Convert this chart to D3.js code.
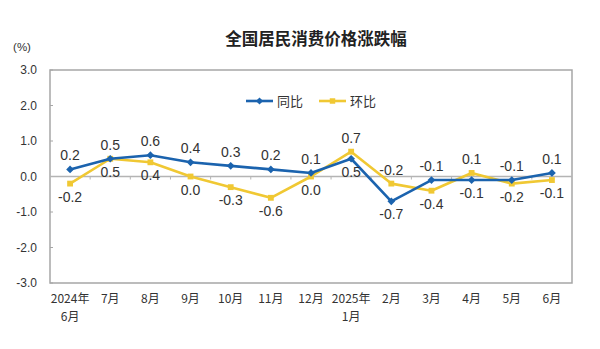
<!DOCTYPE html>
<html>
<head>
<meta charset="utf-8">
<script src="https://cdn.jsdelivr.net/npm/d3@7/dist/d3.min.js"></script>
<style>
  html, body { margin: 0; padding: 0; background: #fff; }
  svg { display: block; }
  text { font-family: "Liberation Sans", "Noto Sans CJK SC", sans-serif; fill: #333; }
</style>
</head>
<body>
<svg id="chart" width="600" height="349"></svg>
<script>
// Monthly CPI change, June 2024 – June 2025 (%)
const months = ["2024年\n6月", "7月", "8月", "9月", "10月", "11月", "12月", "2025年\n1月", "2月", "3月", "4月", "5月", "6月"];
const yoy = [0.2, 0.5, 0.6, 0.4, 0.3, 0.2, 0.1, 0.5, -0.7, -0.1, -0.1, -0.1, 0.1];   // 同比
const mom = [-0.2, 0.5, 0.4, 0.0, -0.3, -0.6, 0.0, 0.7, -0.2, -0.4, 0.1, -0.2, -0.1]; // 环比
const yTicks = [3, 2, 1, 0, -1, -2, -3];
// label side per point: 1 = above, -1 = below
const yoySide = [1, 1, 1, 1, 1, 1, 1, -1, -1, 1, -1, 1, 1];
const momSide = [-1, -1, -1, -1, -1, -1, -1, 1, 1, -1, 1, -1, -1];

const blue = "#1b63ae";
const yellow = "#f0c833";
const frame = "#a6a6a6";

// one decimal, plain hyphen for negatives
const fmt = d3.formatLocale({ decimal: ".", thousands: ",", grouping: [3], currency: ["", ""], minus: "-" }).format(".1f");

const svg = d3.select("#chart");
const plotL = 50, plotR = 572, plotT = 70, plotB = 283;

const x = d3.scaleBand().domain(d3.range(months.length)).range([plotL, plotR]);
const y = d3.scaleLinear().domain([-3, 3]).range([plotB, plotT]);
const cx = i => x(i) + x.bandwidth() / 2;

// title
svg.append("text").attr("x", 316).attr("y", 45).attr("text-anchor", "middle")
  .style("font-family", "'Noto Sans CJK SC', sans-serif")
  .style("font-size", "16.5px").style("font-weight", "bold").style("fill", "#222")
  .text("全国居民消费价格涨跌幅");

svg.append("text").attr("x", 22).attr("y", 51).attr("text-anchor", "middle")
  .style("font-size", "11.5px").text("(%)");

// frame
svg.append("rect").attr("x", plotL).attr("y", plotT).attr("width", plotR - plotL).attr("height", plotB - plotT)
  .attr("fill", "none").attr("stroke", frame).attr("stroke-width", 1.5);

// y axis
const yAxis = svg.append("g").attr("transform", `translate(${plotL},0)`)
  .call(d3.axisLeft(y).tickValues(yTicks).tickFormat(fmt).tickSize(0).tickPadding(13));
yAxis.select(".domain").remove();
yAxis.selectAll("text").style("font-size", "12px").style("fill", "#333");
svg.append("g").selectAll("line").data(yTicks).join("line")
  .attr("x1", plotL).attr("x2", plotL + 3).attr("y1", d => y(d)).attr("y2", d => y(d))
  .attr("stroke", frame).attr("stroke-width", 1);

// zero line with category separators
svg.append("line").attr("x1", plotL).attr("x2", plotR).attr("y1", y(0)).attr("y2", y(0))
  .attr("stroke", "#b4b4b4").attr("stroke-width", 1.5);
svg.append("g").selectAll("line").data(d3.range(1, months.length)).join("line")
  .attr("x1", i => x(i)).attr("x2", i => x(i)).attr("y1", y(0)).attr("y2", y(0) + 3)
  .attr("stroke", "#b4b4b4").attr("stroke-width", 1);

// x labels
const xl = svg.append("g").selectAll("text").data(months).join("text")
  .attr("x", (d, i) => cx(i)).attr("y", 303).attr("text-anchor", "middle")
  .style("font-size", "12px").style("font-family", "'Noto Sans CJK SC', sans-serif");
xl.each(function(d) {
  const parts = d.split("\n");
  parts.forEach((p, k) => {
    d3.select(this).append("tspan").attr("x", d3.select(this).attr("x"))
      .attr("dy", k === 0 ? 0 : 18).text(p);
  });
});

// series
function drawSeries(values, color, diamond, sides) {
  const line = d3.line().x((d, i) => cx(i)).y(d => y(d));
  svg.append("path").datum(values).attr("d", line)
    .attr("fill", "none").attr("stroke", color).attr("stroke-width", 2.6).attr("stroke-linejoin", "round");
  svg.append("g").selectAll("path").data(values).join("path")
    .attr("transform", (d, i) => `translate(${cx(i)},${y(d)})` + (diamond ? " rotate(45)" : ""))
    .attr("d", d3.symbol().type(d3.symbolSquare).size(diamond ? 30 : 34)())
    .attr("fill", color);
  svg.append("g").selectAll("text").data(values).join("text")
    .attr("x", (d, i) => cx(i))
    .attr("y", (d, i) => y(d) + (sides[i] > 0 ? -9 : 18))
    .attr("text-anchor", "middle").style("font-size", "14px").style("fill", "#333")
    .text(d => fmt(d));
}
drawSeries(mom, yellow, false, momSide);
drawSeries(yoy, blue, true, yoySide);

// legend
const legend = [{ name: "同比", color: blue, diamond: true }, { name: "环比", color: yellow, diamond: false }];
const lg = svg.append("g").selectAll("g").data(legend).join("g")
  .attr("transform", (d, i) => `translate(${246 + i * 73},101)`);
lg.append("line").attr("x1", 0).attr("x2", 27).attr("stroke", d => d.color).attr("stroke-width", 2.6);
lg.append("path").attr("transform", d => `translate(13.5,0)` + (d.diamond ? " rotate(45)" : ""))
  .attr("d", d => d3.symbol().type(d3.symbolSquare).size(d.diamond ? 26 : 30)()).attr("fill", d => d.color);
lg.append("text").attr("x", 31).attr("y", 5).style("font-size", "13px")
  .style("font-family", "'Noto Sans CJK SC', sans-serif").text(d => d.name);
</script>
</body>
</html>
